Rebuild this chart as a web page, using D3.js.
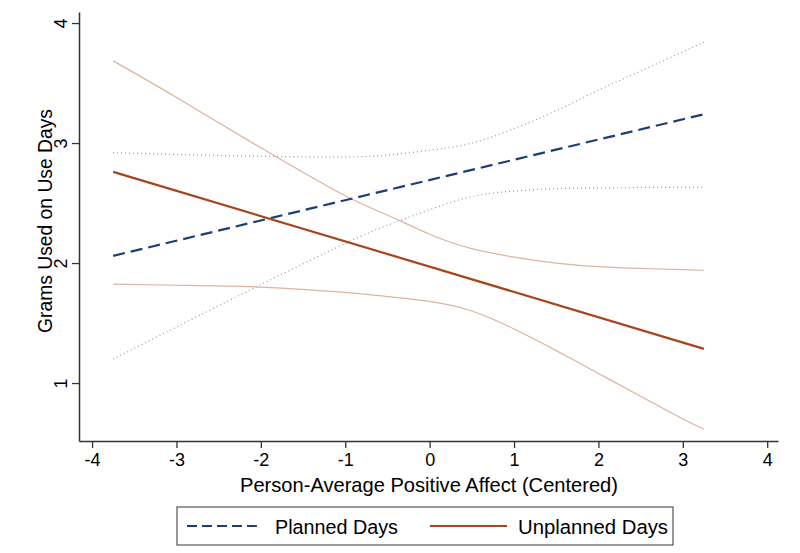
<!DOCTYPE html>
<html><head><meta charset="utf-8">
<script src="https://cdn.jsdelivr.net/npm/d3@7"></script>
<style>body{margin:0;background:#fff;} svg{display:block;font-family:"Liberation Sans",Arial,sans-serif;}</style>
</head><body>
<svg id="c" width="800" height="553"></svg>
<script>
const xGrid = [-3.75, -3, -2, -1, -0.5, 0, 0.5, 1, 1.5, 2, 2.5, 3, 3.25];
const plannedX = [-3.75, 3.25];
const plannedFit = [2.06, 3.24];
const plannedUpper = [2.92, 2.905, 2.89, 2.885, 2.90, 2.94, 3.0, 3.12, 3.27, 3.44, 3.60, 3.76, 3.84];
const plannedLower = [1.20, 1.467, 1.82, 2.163, 2.316, 2.444, 2.554, 2.60, 2.62, 2.625, 2.63, 2.63, 2.63];
const unplannedX = [-3.75, 3.25];
const unplannedFit = [2.76, 1.285];
const unplannedUpper = [3.685, 3.38, 2.96, 2.56, 2.40, 2.24, 2.12, 2.05, 2.0, 1.97, 1.955, 1.945, 1.94];
const unplannedLower = [1.825, 1.815, 1.80, 1.755, 1.72, 1.68, 1.60, 1.45, 1.27, 1.08, 0.89, 0.70, 0.617];
const xTicks = [-4, -3, -2, -1, 0, 1, 2, 3, 4];
const yTicks = [1, 2, 3, 4];
const legendLabels = ["Planned Days", "Unplanned Days"];

const svg = d3.select("#c");
const x = d3.scaleLinear().domain([-4.155, 4.128]).range([79, 778]);
const y = d3.scaleLinear().domain([0.517, 4.092]).range([441, 12]);

const navy = "#1a3f73", navyLight = "#8e97c0";
const rust = "#a5451b", rustLight = "#dfb29d";

// axes
const xa = svg.append("g").attr("transform", "translate(0,441)")
  .call(d3.axisBottom(x).tickValues(xTicks).tickSize(7).tickPadding(4).tickFormat(d => String(d)).tickSizeOuter(0));
const ya = svg.append("g").attr("transform", "translate(79,0)")
  .call(d3.axisLeft(y).tickValues(yTicks).tickSize(7).tickPadding(4).tickFormat(d => String(d)).tickSizeOuter(0));
[xa, ya].forEach(g => {
  g.select(".domain").attr("stroke", "#333").attr("stroke-width", 1.5);
  g.selectAll(".tick line").attr("stroke", "#333").attr("stroke-width", 1.3);
});
xa.selectAll(".tick text").attr("dy", null).attr("y", 25).attr("fill", "#000")
  .style("font-size", "18px").style("font-family", "Liberation Sans, Arial, sans-serif");

ya.selectAll(".tick text").remove();
ya.selectAll(".tick").append("text")
  .attr("transform", "translate(-12.5,0) rotate(-90)")
  .attr("text-anchor", "middle")
  .attr("fill", "#000").style("font-size", "18px").style("font-family", "Liberation Sans, Arial, sans-serif")
  .text(d => String(d));

// axis titles
svg.append("text").attr("x", 429).attr("y", 492).attr("text-anchor", "middle")
  .attr("textLength", 378).attr("lengthAdjust", "spacingAndGlyphs")
  .style("font-size", "21px").attr("fill", "#000").text("Person-Average Positive Affect (Centered)");
svg.append("text").attr("transform", "translate(51.5,221) rotate(-90)").attr("text-anchor", "middle")
  .attr("textLength", 224).attr("lengthAdjust", "spacingAndGlyphs")
  .style("font-size", "20.5px").attr("fill", "#000").text("Grams Used on Use Days");

const line = d3.line().x(d => x(d[0])).y(d => y(d[1]));
const curve = d3.line().x(d => x(d[0])).y(d => y(d[1])).curve(d3.curveNatural);
const g = svg.append("g").attr("fill", "none");

g.append("path").datum(xGrid.map((v,i)=>[v, plannedUpper[i]])).attr("d", curve)
  .attr("stroke", navyLight).attr("stroke-width", 1.2).attr("stroke-dasharray", "1,3");
g.append("path").datum(xGrid.map((v,i)=>[v, plannedLower[i]])).attr("d", curve)
  .attr("stroke", navyLight).attr("stroke-width", 1.2).attr("stroke-dasharray", "1,3");
g.append("path").datum(xGrid.map((v,i)=>[v, unplannedUpper[i]])).attr("d", curve)
  .attr("stroke", rustLight).attr("stroke-width", 1.2);
g.append("path").datum(xGrid.map((v,i)=>[v, unplannedLower[i]])).attr("d", curve)
  .attr("stroke", rustLight).attr("stroke-width", 1.2);
g.append("path").datum(plannedX.map((v,i)=>[v, plannedFit[i]])).attr("d", line)
  .attr("stroke", navy).attr("stroke-width", 2.2).attr("stroke-dasharray", "12,6");
g.append("path").datum(unplannedX.map((v,i)=>[v, unplannedFit[i]])).attr("d", line)
  .attr("stroke", rust).attr("stroke-width", 2.2);

// legend
const lg = svg.append("g");
lg.append("rect").attr("x", 177).attr("y", 507).attr("width", 496).attr("height", 38)
  .attr("fill", "#fff").attr("stroke", "#333").attr("stroke-width", 1);
lg.append("line").attr("x1", 187).attr("x2", 261).attr("y1", 526).attr("y2", 526)
  .attr("stroke", navy).attr("stroke-width", 1.8).attr("stroke-dasharray", "10,5");
lg.append("text").attr("x", 275).attr("y", 534).attr("textLength", 123).attr("lengthAdjust", "spacingAndGlyphs")
  .style("font-size", "20px").attr("fill", "#000").text(legendLabels[0]);
lg.append("line").attr("x1", 430).attr("x2", 507).attr("y1", 526).attr("y2", 526)
  .attr("stroke", rust).attr("stroke-width", 1.8);
lg.append("text").attr("x", 518).attr("y", 534).attr("textLength", 150).attr("lengthAdjust", "spacingAndGlyphs")
  .style("font-size", "20px").attr("fill", "#000").text(legendLabels[1]);
</script>
</body></html>
